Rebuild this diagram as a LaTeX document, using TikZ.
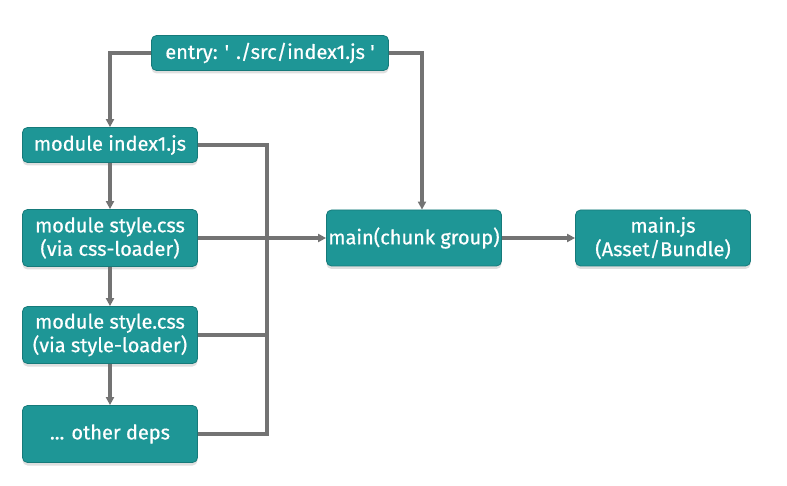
\documentclass[tikz,border=0pt]{standalone}
\usepackage{fontspec}
\newfontfamily\boxfont{Fira Sans}[FakeBold=0.6]
\usepackage{tikz}
\usetikzlibrary{arrows.meta,shadows}
\definecolor{boxteal}{RGB}{30,150,150}
\definecolor{boxedge}{RGB}{22,122,122}
\definecolor{linegray}{RGB}{115,115,115}
\begin{document}
\begin{tikzpicture}[x=1pt, y=-1pt,
  box/.style={draw=boxedge, fill=boxteal, rounded corners=5pt, text=white,
    font=\boxfont\fontsize{20}{23.5}\selectfont, align=center, inner sep=0pt,
    line width=0.8pt, minimum width=175pt,
    drop shadow={shadow xshift=0pt, shadow yshift=-3pt, opacity=0.25}},
  link/.style={draw=linegray, line width=3.2pt},
  tip/.style={-{Triangle[length=8pt,width=8pt]}}]
\useasboundingbox (0,0) rectangle (787,486);
%%%%% Boxes %%%%%
\node[box, minimum width=237pt, minimum height=35pt] (entry) at (270,53) {entry: ' ./src/index1.js '};
\node[box, minimum height=35pt] (index) at (110,145) {module index1.js};
\node[box, minimum height=57pt] (css) at (110,238) {module style.css\\(via css-loader)};
\node[box, minimum height=57pt] (loader) at (110,335) {module style.css\\(via style-loader)};
\node[box, minimum height=57pt] (deps) at (110,434) {... other deps};
\node[box, minimum height=56pt] (chunk) at (414,238) {main(chunk group)};
\node[box, minimum height=56pt] (bundle) at (663,238) {main.js\\(Asset/Bundle)};
%%%%% Links %%%%%
\coordinate (busTop) at (267,145);
\coordinate (busBot) at (267,434);
\draw[link,tip] (entry.west) -| (index.north);
\draw[link,tip] (entry.east) -| ([xshift=8pt]chunk.north);
\draw[link,tip] (index) -- (css);
\draw[link,tip] (css) -- (loader);
\draw[link,tip] (loader) -- (deps);
\draw[link] (index.east) -- (busTop) -- (busBot) -- (deps.east);
\draw[link] (loader.east) -- (loader.east -| busTop);
\draw[link,tip] (css.east) -- (chunk.west);
\draw[link,tip] (chunk) -- (bundle);
\end{tikzpicture}
\end{document}
